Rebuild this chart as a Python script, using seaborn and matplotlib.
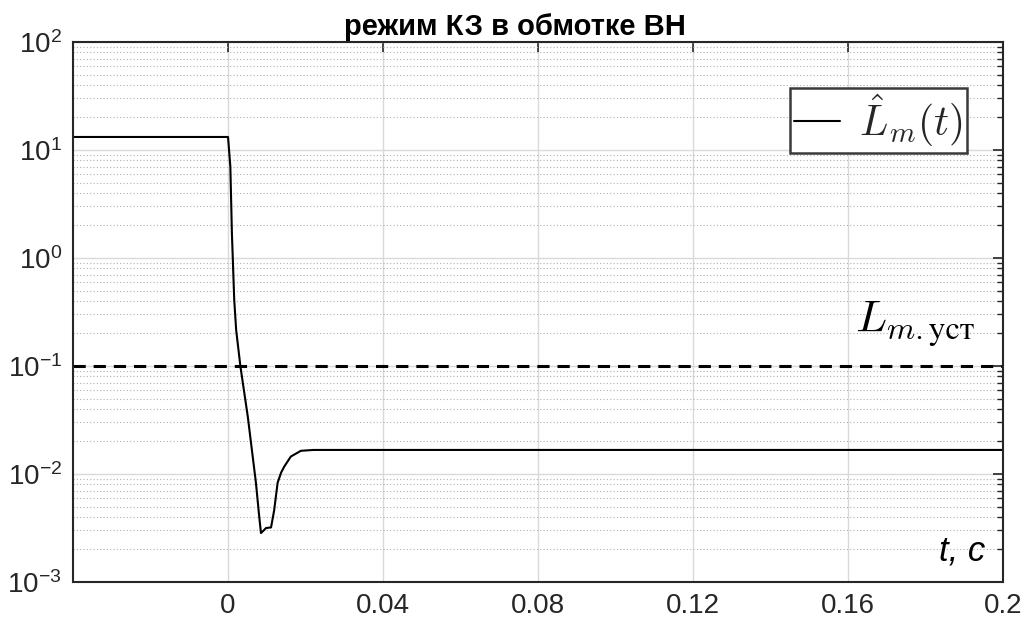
import matplotlib
matplotlib.use("Agg")
import matplotlib.pyplot as plt
import matplotlib.ticker as mticker
import numpy as np
import seaborn as sns

# значення
t_vals = [-0.04, 0.0, 0.0006, 0.0010, 0.0016, 0.0021, 0.0032, 0.0051, 0.0072,
          0.0080, 0.0085, 0.0092, 0.0098, 0.0111, 0.0119, 0.0128, 0.0137,
          0.0145, 0.0162, 0.0188, 0.0220, 0.0400, 0.0800, 0.1200, 0.1600, 0.2000]
lm_vals = [13.2, 13.2, 7.0, 1.7, 0.41, 0.215, 0.099, 0.034, 0.0083,
           0.0042, 0.00284, 0.0030, 0.00316, 0.0032, 0.0046, 0.0083, 0.0103,
           0.0117, 0.0145, 0.0164, 0.0167, 0.0167, 0.0167, 0.0167, 0.0167, 0.0167]
lm_ust = 0.1
x_ticks = [0, 0.04, 0.08, 0.12, 0.16, 0.2]
x_labels = ["0", "0.04", "0.08", "0.12", "0.16", "0.2"]

sns.set_theme(style="white")
plt.rcParams["font.family"] = ["Liberation Sans", "DejaVu Sans"]
plt.rcParams["mathtext.fontset"] = "cm"

fig = plt.figure(figsize=(10.3, 6.25), dpi=100)
ax = fig.add_axes([0.0709, 0.0688, 0.9029, 0.864])

sns.lineplot(x=t_vals, y=lm_vals, ax=ax, color="black", linewidth=1.5,
             estimator=None, sort=False, label=r"$\hat{L}_m(t)$")
ax.axhline(lm_ust, color="black", linewidth=2.2, linestyle=(0, (4, 2.6)))

ax.set_yscale("log")
ax.set_xlim(-0.04, 0.2)
ax.set_ylim(1e-3, 1e2)
ax.set_xticks(x_ticks)
ax.set_xticklabels(x_labels)
ax.yaxis.set_major_locator(mticker.LogLocator(base=10, numticks=10))
ax.yaxis.set_minor_locator(mticker.LogLocator(base=10, subs=np.arange(2, 10), numticks=20))
ax.yaxis.set_minor_formatter(mticker.NullFormatter())

# сітка в стилі MATLAB
ax.grid(True, which="major", axis="both", color="#d9d9d9", linewidth=1.0, linestyle="-")
ax.grid(True, which="minor", axis="y", color="#b0b0b0", linewidth=0.8, linestyle=(0, (1, 2)))
ax.set_axisbelow(True)

ax.tick_params(which="both", direction="in", top=True, right=True,
               colors="#262626", labelcolor="#262626")
ax.tick_params(which="major", length=7, width=1.2, labelsize=20, pad=8)
ax.tick_params(which="minor", length=4, width=1.0)
for s in ax.spines.values():
    s.set_color("#262626")
    s.set_linewidth(1.5)

ax.set_title("режим КЗ в обмотке ВН", fontsize=21, fontweight="bold", pad=5,
             color="black", x=0.475)
ax.set_xlabel("")
ax.set_ylabel("")

leg = ax.legend(loc="upper right", fontsize=30, handlelength=1.1, handletextpad=0.45,
                borderpad=0.1, borderaxespad=0, fancybox=False, framealpha=1,
                edgecolor="#3a3a3a", bbox_to_anchor=(0.9613, 0.915))
leg.get_frame().set_linewidth(1.8)

ax.text(0.1928, 0.145, r"$L_{m.\mathrm{уст}}$", fontsize=33, ha="right", va="bottom",
        color="black")
ax.text(0.1955, 1.35e-3, "t, c", fontsize=25, style="italic", ha="right", va="bottom",
        color="black")

fig.savefig("out.png", dpi=100)
